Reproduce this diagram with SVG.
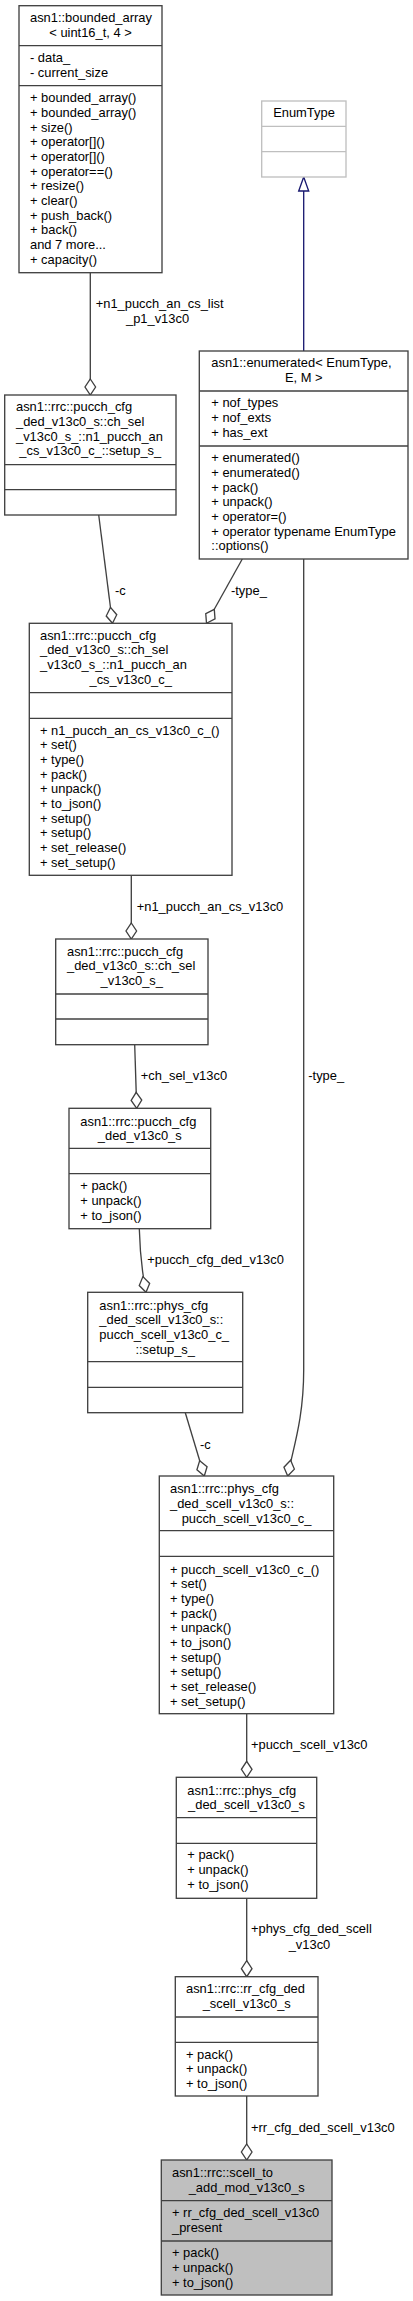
<svg xmlns="http://www.w3.org/2000/svg" width="413" height="2301" viewBox="0 0 413 2301">
<style>
text{font-family:"Liberation Sans",Arial,Helvetica,sans-serif;font-size:12.9px;fill:#000}
.m{text-anchor:middle}
.box{fill:#fff;stroke:#404040;stroke-width:1.33}
.sep{stroke:#404040;stroke-width:1.33}
.gbox{fill:#fff;stroke:#bfbfbf;stroke-width:1.33}
.gsep{stroke:#bfbfbf;stroke-width:1.33}
.cur{fill:#bfbfbf;stroke:#404040;stroke-width:1.33}
.e{fill:none;stroke:#404040;stroke-width:1.33}
.inh{fill:none;stroke:#191970;stroke-width:1.33}
</style>
<defs>
<marker id="dia" markerUnits="userSpaceOnUse" viewBox="-1 -7 18 14" markerWidth="18" markerHeight="14" refX="16" refY="0" orient="auto">
<path d="M0,0 L8,-5.3 L16,0 L8,5.3 Z" fill="#fff" stroke="#404040" stroke-width="1.33"/>
</marker>
<marker id="tri" markerUnits="userSpaceOnUse" viewBox="-1 -7 16 14" markerWidth="16" markerHeight="14" refX="14" refY="0" orient="auto">
<path d="M0,-5 L14,0 L0,5 Z" fill="#fff" stroke="#191970" stroke-width="1.33"/>
</marker>
</defs>

<g id="connectors">
<path class="inh" d="M303.7,351 V177" marker-end="url(#tri)"/>
<path class="e" d="M90.3,272.7 V395" marker-end="url(#dia)"/>
<text x="95.7" y="307.8">+n1_pucch_an_cs_list</text>
<text x="126" y="322.8">_p1_v13c0</text>
<path class="e" d="M98.7,515 L112.5,623.3" marker-end="url(#dia)"/>
<text x="115" y="595.2">-c</text>
<path class="e" d="M242.3,559 L206.5,623.3" marker-end="url(#dia)"/>
<text x="231" y="595.2">-type_</text>
<path class="e" d="M131.3,875.3 V939" marker-end="url(#dia)"/>
<text x="136.7" y="911.2">+n1_pucch_an_cs_v13c0</text>
<path class="e" d="M134.7,1044.7 L136.7,1108.3" marker-end="url(#dia)"/>
<text x="140.7" y="1080.2">+ch_sel_v13c0</text>
<path class="e" d="M139.3,1228.7 C140,1255 142,1272 146,1292.3" marker-end="url(#dia)"/>
<text x="147.3" y="1264.2">+pucch_cfg_ded_v13c0</text>
<path class="e" d="M185.3,1412.7 L204.3,1476" marker-end="url(#dia)"/>
<text x="200" y="1448.5">-c</text>
<path class="e" d="M303.7,559 V1370 C303.7,1420 292.5,1450 287.7,1476" marker-end="url(#dia)"/>
<text x="308.3" y="1080.2">-type_</text>
<path class="e" d="M246.7,1713.7 V1777.3" marker-end="url(#dia)"/>
<text x="251" y="1749.2">+pucch_scell_v13c0</text>
<path class="e" d="M246.7,1898.3 V1976.7" marker-end="url(#dia)"/>
<text x="251" y="1933.2">+phys_cfg_ded_scell</text>
<text x="288.7" y="1948.5">_v13c0</text>
<path class="e" d="M246.7,2096 V2160" marker-end="url(#dia)"/>
<text x="251" y="2132.2">+rr_cfg_ded_scell_v13c0</text>
</g>

<g id="bounded_array">
<rect class="box" x="19" y="5.7" width="143" height="267"/>
<line class="sep" x1="19" y1="45.7" x2="162" y2="45.7"/>
<line class="sep" x1="19" y1="85.7" x2="162" y2="85.7"/>
<text x="30" y="22.2">asn1::bounded_array</text>
<text class="m" x="90.5" y="36.8">&lt; uint16_t, 4 &gt;</text>
<text x="30" y="62.2">- data_</text>
<text x="30" y="76.8">- current_size</text>
<text x="30" y="102.2">+ bounded_array()</text>
<text x="30" y="116.9">+ bounded_array()</text>
<text x="30" y="131.5">+ size()</text>
<text x="30" y="146.2">+ operator[]()</text>
<text x="30" y="160.9">+ operator[]()</text>
<text x="30" y="175.5">+ operator==()</text>
<text x="30" y="190.2">+ resize()</text>
<text x="30" y="204.9">+ clear()</text>
<text x="30" y="219.6">+ push_back()</text>
<text x="30" y="234.2">+ back()</text>
<text x="30" y="248.9">and 7 more...</text>
<text x="30" y="263.6">+ capacity()</text>
</g>

<g id="EnumType">
<rect class="gbox" x="261.7" y="101" width="84.3" height="76"/>
<line class="gsep" x1="261.7" y1="126.3" x2="346" y2="126.3"/>
<line class="gsep" x1="261.7" y1="151.7" x2="346" y2="151.7"/>
<text class="m" x="304" y="117.2">EnumType</text>
</g>

<g id="enumerated">
<rect class="box" x="199.3" y="351" width="208.7" height="208"/>
<line class="sep" x1="199.3" y1="391" x2="408" y2="391"/>
<line class="sep" x1="199.3" y1="446" x2="408" y2="446"/>
<text x="211.3" y="366.8">asn1::enumerated&lt; EnumType,</text>
<text class="m" x="303.7" y="381.8">E, M &gt;</text>
<text x="211.3" y="407.2">+ nof_types</text>
<text x="211.3" y="421.9">+ nof_exts</text>
<text x="211.3" y="436.5">+ has_ext</text>
<text x="211.3" y="462.2">+ enumerated()</text>
<text x="211.3" y="476.9">+ enumerated()</text>
<text x="211.3" y="491.5">+ pack()</text>
<text x="211.3" y="506.2">+ unpack()</text>
<text x="211.3" y="520.9">+ operator=()</text>
<text x="211.3" y="535.5">+ operator typename EnumType</text>
<text x="211.3" y="550.2">::options()</text>
</g>

<g id="setup_s_pucch">
<rect class="box" x="4.7" y="395" width="171.3" height="120"/>
<line class="sep" x1="4.7" y1="464.7" x2="176" y2="464.7"/>
<line class="sep" x1="4.7" y1="489.7" x2="176" y2="489.7"/>
<text x="16" y="411.2">asn1::rrc::pucch_cfg</text>
<text x="16" y="425.9">_ded_v13c0_s::ch_sel</text>
<text x="16" y="440.5">_v13c0_s_::n1_pucch_an</text>
<text class="m" x="90.3" y="455.2">_cs_v13c0_c_::setup_s_</text>
</g>

<g id="n1_pucch_an_cs_v13c0_c_">
<rect class="box" x="29.3" y="623.3" width="202.7" height="252"/>
<line class="sep" x1="29.3" y1="692.7" x2="232" y2="692.7"/>
<line class="sep" x1="29.3" y1="718.3" x2="232" y2="718.3"/>
<text x="40" y="639.5">asn1::rrc::pucch_cfg</text>
<text x="40" y="654.2">_ded_v13c0_s::ch_sel</text>
<text x="40" y="668.8">_v13c0_s_::n1_pucch_an</text>
<text class="m" x="130.7" y="683.5">_cs_v13c0_c_</text>
<text x="40" y="734.5">+ n1_pucch_an_cs_v13c0_c_()</text>
<text x="40" y="749.2">+ set()</text>
<text x="40" y="763.8">+ type()</text>
<text x="40" y="778.5">+ pack()</text>
<text x="40" y="793.2">+ unpack()</text>
<text x="40" y="807.9">+ to_json()</text>
<text x="40" y="822.5">+ setup()</text>
<text x="40" y="837.2">+ setup()</text>
<text x="40" y="851.9">+ set_release()</text>
<text x="40" y="866.5">+ set_setup()</text>
</g>

<g id="ch_sel_v13c0_s_">
<rect class="box" x="55.7" y="939" width="152.3" height="105.7"/>
<line class="sep" x1="55.7" y1="994" x2="208" y2="994"/>
<line class="sep" x1="55.7" y1="1019" x2="208" y2="1019"/>
<text x="67" y="955.5">asn1::rrc::pucch_cfg</text>
<text x="67" y="970.2">_ded_v13c0_s::ch_sel</text>
<text class="m" x="131.8" y="984.8">_v13c0_s_</text>
</g>

<g id="pucch_cfg_ded_v13c0_s">
<rect class="box" x="69" y="1108.3" width="141.7" height="120.4"/>
<line class="sep" x1="69" y1="1148.3" x2="210.7" y2="1148.3"/>
<line class="sep" x1="69" y1="1173.7" x2="210.7" y2="1173.7"/>
<text x="80.3" y="1125.5">asn1::rrc::pucch_cfg</text>
<text class="m" x="139.8" y="1139.8">_ded_v13c0_s</text>
<text x="80.3" y="1190.2">+ pack()</text>
<text x="80.3" y="1204.8">+ unpack()</text>
<text x="80.3" y="1219.5">+ to_json()</text>
</g>

<g id="setup_s_phys">
<rect class="box" x="87.7" y="1292.3" width="155" height="120.4"/>
<line class="sep" x1="87.7" y1="1361.7" x2="242.7" y2="1361.7"/>
<line class="sep" x1="87.7" y1="1387.3" x2="242.7" y2="1387.3"/>
<text x="99.3" y="1309.5">asn1::rrc::phys_cfg</text>
<text x="99.3" y="1324.2">_ded_scell_v13c0_s::</text>
<text x="99.3" y="1338.8">pucch_scell_v13c0_c_</text>
<text class="m" x="165.2" y="1353.5">::setup_s_</text>
</g>

<g id="pucch_scell_v13c0_c_">
<rect class="box" x="159.3" y="1476" width="174.4" height="237.7"/>
<line class="sep" x1="159.3" y1="1530.7" x2="333.7" y2="1530.7"/>
<line class="sep" x1="159.3" y1="1556.3" x2="333.7" y2="1556.3"/>
<text x="170" y="1493.2">asn1::rrc::phys_cfg</text>
<text x="170" y="1507.9">_ded_scell_v13c0_s::</text>
<text class="m" x="246.5" y="1522.5">pucch_scell_v13c0_c_</text>
<text x="170" y="1573.5">+ pucch_scell_v13c0_c_()</text>
<text x="170" y="1588.2">+ set()</text>
<text x="170" y="1602.8">+ type()</text>
<text x="170" y="1617.5">+ pack()</text>
<text x="170" y="1632.2">+ unpack()</text>
<text x="170" y="1646.9">+ to_json()</text>
<text x="170" y="1661.5">+ setup()</text>
<text x="170" y="1676.2">+ setup()</text>
<text x="170" y="1690.9">+ set_release()</text>
<text x="170" y="1705.5">+ set_setup()</text>
</g>

<g id="phys_cfg_ded_scell_v13c0_s">
<rect class="box" x="176.3" y="1777.3" width="140.4" height="121"/>
<line class="sep" x1="176.3" y1="1817.7" x2="316.7" y2="1817.7"/>
<line class="sep" x1="176.3" y1="1843.3" x2="316.7" y2="1843.3"/>
<text x="187.3" y="1794.5">asn1::rrc::phys_cfg</text>
<text class="m" x="246.5" y="1809.2">_ded_scell_v13c0_s</text>
<text x="187.3" y="1859.2">+ pack()</text>
<text x="187.3" y="1873.8">+ unpack()</text>
<text x="187.3" y="1888.5">+ to_json()</text>
</g>

<g id="rr_cfg_ded_scell_v13c0_s">
<rect class="box" x="175.3" y="1976.7" width="142.7" height="119.3"/>
<line class="sep" x1="175.3" y1="2017" x2="318" y2="2017"/>
<line class="sep" x1="175.3" y1="2042.3" x2="318" y2="2042.3"/>
<text x="186" y="1993.2">asn1::rrc::rr_cfg_ded</text>
<text class="m" x="246.7" y="2007.8">_scell_v13c0_s</text>
<text x="186" y="2058.5">+ pack()</text>
<text x="186" y="2073.2">+ unpack()</text>
<text x="186" y="2087.8">+ to_json()</text>
</g>

<g id="scell_to_add_mod_v13c0_s">
<rect class="cur" x="161.3" y="2160" width="170.7" height="135"/>
<line class="sep" x1="161.3" y1="2200.7" x2="332" y2="2200.7"/>
<line class="sep" x1="161.3" y1="2241" x2="332" y2="2241"/>
<text x="172" y="2177.2">asn1::rrc::scell_to</text>
<text class="m" x="246.7" y="2191.8">_add_mod_v13c0_s</text>
<text x="172" y="2217.2">+ rr_cfg_ded_scell_v13c0</text>
<text x="172" y="2231.8">_present</text>
<text x="172" y="2257.2">+ pack()</text>
<text x="172" y="2271.8">+ unpack()</text>
<text x="172" y="2286.5">+ to_json()</text>
</g>
</svg>
